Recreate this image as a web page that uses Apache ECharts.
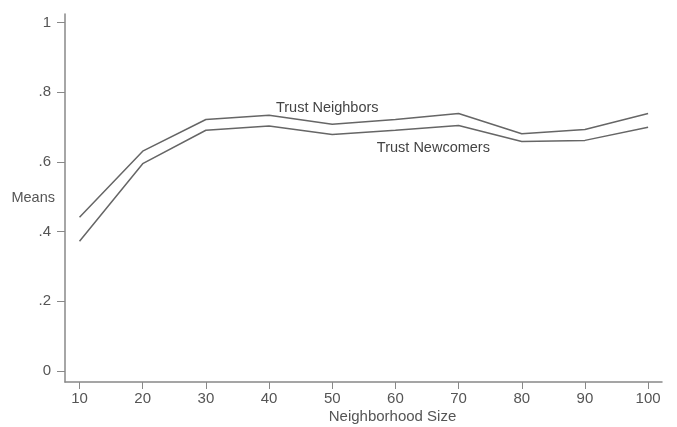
<!DOCTYPE html>
<html><head><meta charset="utf-8">
<script src="https://cdn.jsdelivr.net/npm/echarts@6/dist/echarts.min.js"></script>
<style>html,body{margin:0;padding:0;background:#fff}#c{width:677px;height:427px}</style>
</head><body><div id="c"></div>
<script>
const sizes = [10, 20, 30, 40, 50, 60, 70, 80, 90, 100];
const trustNeighbors = [0.441, 0.631, 0.722, 0.734, 0.708, 0.722, 0.739, 0.681, 0.693, 0.739];
const trustNewcomers = [0.372, 0.595, 0.691, 0.703, 0.679, 0.691, 0.705, 0.659, 0.662, 0.700];
const yTicks = [0, 0.2, 0.4, 0.6, 0.8, 1];
const xTicks = [10, 20, 30, 40, 50, 60, 70, 80, 90, 100];

const font = 'Liberation Sans, Arial, sans-serif';
const txt = '#555';
const lineCol = '#666';

function pts(arr, labelIdx, label) {
  return sizes.map((s, i) => {
    const p = { value: [s, arr[i]] };
    if (i === labelIdx) p.label = label;
    return p;
  });
}

const chart = echarts.init(document.getElementById('c'));
chart.setOption({
  animation: false,
  grid: { left: 65, right: 15, top: 14, bottom: 45, outerBoundsMode: 'none', containLabel: false },
  xAxis: {
    type: 'value', min: 7.7, max: 102.2,
    name: 'Neighborhood Size', nameLocation: 'middle', nameGap: 27, nameMoveOverlap: false,
    nameTextStyle: { color: txt, fontFamily: font, fontSize: 15, padding: [0, 0, 0, 58] },
    axisLine: { show: true, onZero: false, lineStyle: { color: '#888', width: 1.5 } },
    axisTick: { show: true, customValues: xTicks, length: 7, lineStyle: { color: '#888' } },
    axisLabel: { customValues: xTicks, color: txt, fontFamily: font, fontSize: 15, margin: 9 },
    splitLine: { show: false }
  },
  yAxis: {
    type: 'value', min: -0.032, max: 1.025,
    name: 'Means', nameLocation: 'middle', nameRotate: 0, nameGap: 10, nameMoveOverlap: false,
    nameTextStyle: { color: txt, fontFamily: font, fontSize: 14.5, padding: [0, 0, 6, 0] },
    axisLine: { show: true, onZero: false, lineStyle: { color: '#888', width: 1.5 } },
    axisTick: { show: true, customValues: yTicks, length: 8, lineStyle: { color: '#888' } },
    axisLabel: {
      customValues: yTicks, color: txt, fontFamily: font, fontSize: 15, margin: 14,
      formatter: v => v === 0 ? '0' : (v === 1 ? '1' : String(v).replace(/^0/, ''))
    },
    splitLine: { show: false }
  },
  series: [
    {
      name: 'Trust Neighbors', type: 'line', symbol: 'circle', symbolSize: 0, showSymbol: true,
      lineStyle: { color: lineCol, width: 1.5 },
      label: { show: false },
      data: pts(trustNeighbors, 4, {
        show: true, formatter: 'Trust Neighbors', position: 'top', offset: [-5, -4],
        color: '#444', fontFamily: font, fontSize: 14.5
      })
    },
    {
      name: 'Trust Newcomers', type: 'line', symbol: 'circle', symbolSize: 0, showSymbol: true,
      lineStyle: { color: lineCol, width: 1.5 },
      label: { show: false },
      data: pts(trustNewcomers, 5, {
        show: true, formatter: 'Trust Newcomers', position: 'bottom', offset: [38, 5],
        color: '#444', fontFamily: font, fontSize: 14.5
      })
    }
  ]
});
</script>
</body></html>
